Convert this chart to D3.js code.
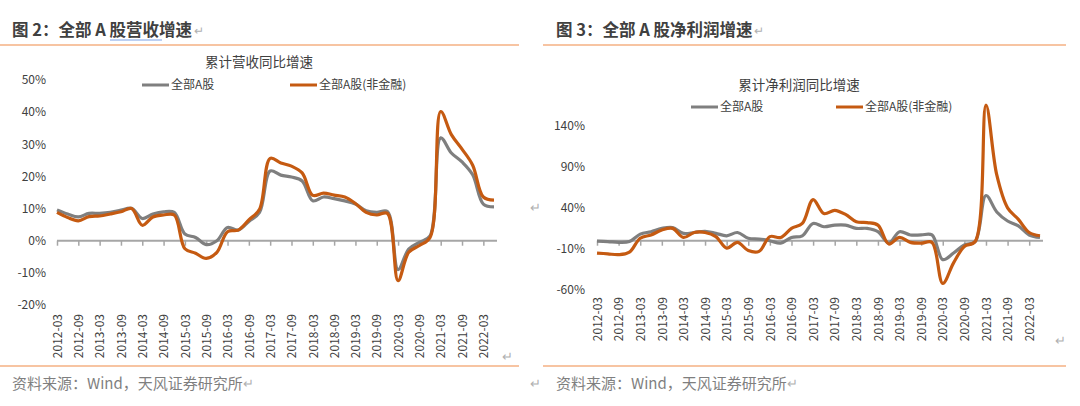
<!DOCTYPE html>
<html>
<head>
<meta charset="utf-8">
<script src="https://cdn.jsdelivr.net/npm/d3@7"></script>
<style>
  html, body { margin: 0; padding: 0; background: #fff; }
  svg { display: block; font-family: "Noto Sans CJK SC", "Noto Sans", sans-serif; }
</style>
</head>
<body>
<div class="chartWrapper"></div>
<script>
const pageWidth = 1080, pageHeight = 406;

// quarterly categories
const quarters = [
  "2012-03", "2012-06", "2012-09", "2012-12",
  "2013-03", "2013-06", "2013-09", "2013-12",
  "2014-03", "2014-06", "2014-09", "2014-12",
  "2015-03", "2015-06", "2015-09", "2015-12",
  "2016-03", "2016-06", "2016-09", "2016-12",
  "2017-03", "2017-06", "2017-09", "2017-12",
  "2018-03", "2018-06", "2018-09", "2018-12",
  "2019-03", "2019-06", "2019-09", "2019-12",
  "2020-03", "2020-06", "2020-09", "2020-12",
  "2021-03", "2021-06", "2021-09", "2021-12",
  "2022-03", "2022-06"
];
// only every other quarter gets a tick label
const tickQuarters = quarters.filter(q => q.endsWith("-03") || q.endsWith("-09"));

const seriesNames = ["全部A股", "全部A股(非金融)"];

// 累计营收同比增速 (%)
const revenueAll = [
  9.6, 8.3, 7.4, 8.5, 8.5, 8.8, 9.5, 10.1, 6.9, 8.3, 9.0, 8.8,
  2.1, 1.0, -1.2, 0.0, 4.1, 3.3, 6.0, 8.8, 21.7, 20.4, 19.8, 18.6,
  12.4, 13.6, 13.1, 12.4, 11.4, 9.3, 8.8, 9.1, -9.0, -2.6, -0.5, 1.5,
  32.0, 27.3, 24.5, 20.5, 11.4, 10.5
];
const revenueNonFin = [
  8.8, 7.2, 6.2, 7.5, 7.7, 8.3, 9.0, 10.0, 4.8, 7.4, 8.0, 8.0,
  -2.5, -3.9, -5.5, -3.6, 2.8, 3.3, 6.5, 9.8, 25.6, 24.2, 23.2, 21.1,
  14.1, 14.8, 14.2, 13.6, 11.6, 8.8, 8.0, 8.5, -12.4, -3.6, -1.5, 1.0,
  40.2, 33.0, 28.5, 23.5, 13.6, 12.6
];
const revenueTicks = [-20, -10, 0, 10, 20, 30, 40, 50];

// 累计净利润同比增速 (%)
const profitAll = [
  -0.5, -1, -2, -1, 8, 11, 15, 16, 9, 10, 11.5, 9,
  6, 10, 3, 2, 0, -3, 4, 6, 21, 17, 19, 19,
  15, 15, 11, -3, 11, 7, 7, 7, -23, -15, -5, -1,
  55, 35, 24, 18, 7, 4
];
const profitNonFin = [
  -15, -16, -17, -14, 3, 7, 13, 15, 4, 10, 10, 5,
  -9, -2, -12, -13, 5, 4, 15, 21, 50, 33, 37, 32,
  23, 22, 19, -4, 4, -2, -3, -2, -52, -27, -7, -1,
  165, 80, 40, 26, 10, 6
];
const profitTicks = [-60, -10, 40, 90, 140];

const GRAY = "#7f7f7f", ORANGE = "#c55a11";
const TEXT = "#404040", RULE = "#f4b183", RETURN = "#b0b0b0";

const svg = d3.select(".chartWrapper").append("svg")
  .attr("width", pageWidth)
  .attr("height", pageHeight);

svg.append("rect").attr("width", pageWidth).attr("height", pageHeight).attr("fill", "#fff");

function addReturnMark(x, y, size) {
  svg.append("text")
    .attr("x", x).attr("y", y)
    .attr("fill", RETURN)
    .attr("font-size", size || 13)
    .text("↵");
}

function drawPanel(opts) {
  // heading + orange rules
  const head = svg.append("text")
    .attr("x", opts.headX).attr("y", 36)
    .attr("fill", TEXT)
    .attr("font-size", 16.5)
    .attr("font-weight", "bold")
    .text(opts.heading);
  const headBox = head.node().getBBox();
  addReturnMark(headBox.x + headBox.width + 1, 35, 12);

  svg.append("line")
    .attr("x1", opts.ruleX[0]).attr("x2", opts.ruleX[1])
    .attr("y1", 45).attr("y2", 45)
    .attr("stroke", RULE).attr("stroke-width", 1.5);
  svg.append("line")
    .attr("x1", opts.ruleX[0]).attr("x2", opts.ruleX[1])
    .attr("y1", 366).attr("y2", 366)
    .attr("stroke", RULE).attr("stroke-width", 1.5);

  const foot = svg.append("text")
    .attr("x", opts.headX).attr("y", 389)
    .attr("fill", "#7f7f7f")
    .attr("font-size", 15)
    .text("资料来源：Wind，天风证券研究所");
  const footBox = foot.node().getBBox();
  addReturnMark(footBox.x + footBox.width, 388, 13);

  // chart title and legend
  svg.append("text")
    .attr("x", opts.titleX).attr("y", opts.titleY)
    .attr("text-anchor", "middle")
    .attr("fill", TEXT)
    .attr("font-size", 13.5)
    .text(opts.title);

  const legendColors = [GRAY, ORANGE];
  opts.legendX.forEach((lx, i) => {
    svg.append("line")
      .attr("x1", lx).attr("x2", lx + 27)
      .attr("y1", opts.legendY).attr("y2", opts.legendY)
      .attr("stroke", legendColors[i]).attr("stroke-width", 3);
    svg.append("text")
      .attr("x", lx + 29).attr("y", opts.legendY)
      .attr("dy", "0.35em")
      .attr("fill", TEXT)
      .attr("font-size", 12)
      .text(seriesNames[i]);
  });

  const x = d3.scalePoint().domain(quarters).range(opts.xRange);
  const y = d3.scaleLinear().domain(opts.yDomain).range(opts.yRange);

  // y labels
  const yAxis = svg.append("g")
    .attr("transform", `translate(${opts.yLabelX},0)`)
    .call(d3.axisLeft(y).tickValues(opts.yTicks).tickSize(0).tickPadding(0)
      .tickFormat(d => d + "%"));
  yAxis.select(".domain").remove();
  yAxis.selectAll("text")
    .attr("fill", TEXT)
    .attr("font-size", 12)
    .attr("font-family", "'Noto Sans CJK SC', sans-serif");

  // zero line with tick marks
  const zeroAxis = svg.append("g")
    .attr("transform", `translate(0,${y(0)})`)
    .call(d3.axisBottom(x).tickValues(tickQuarters).tickSize(5).tickSizeOuter(0).tickFormat(""));
  zeroAxis.select(".domain")
    .attr("stroke", "#a6a6a6").attr("stroke-width", 2)
    .attr("d", `M${opts.xRange[0]},0H${opts.xRange[1] + 3}`);
  zeroAxis.selectAll(".tick line").attr("stroke", "#a6a6a6").attr("stroke-width", 1.5);

  // rotated category labels at the bottom
  const labelAxis = svg.append("g")
    .attr("transform", `translate(0,${opts.xLabelY})`)
    .call(d3.axisBottom(x).tickValues(tickQuarters).tickSize(0).tickPadding(0));
  labelAxis.select(".domain").remove();
  labelAxis.selectAll("text")
    .attr("transform", "rotate(-90)")
    .attr("x", 0).attr("y", 0)
    .attr("dy", "0.35em")
    .attr("text-anchor", "end")
    .attr("fill", TEXT)
    .attr("font-size", 12)
    .attr("font-family", "'Noto Sans CJK SC', sans-serif");

  const line = d3.line()
    .x((d, i) => x(quarters[i]))
    .y(d => y(d))
    .curve(d3.curveCatmullRom.alpha(0.5));

  [[opts.seriesA, GRAY], [opts.seriesB, ORANGE]].forEach(([values, color]) => {
    svg.append("path")
      .datum(values)
      .attr("fill", "none")
      .attr("stroke", color)
      .attr("stroke-width", 3.2)
      .attr("stroke-linejoin", "round")
      .attr("d", line);
  });
}

drawPanel({
  heading: "图 2：全部 A 股营收增速",
  headX: 12,
  ruleX: [0, 519],
  title: "累计营收同比增速",
  titleX: 259, titleY: 67,
  legendX: [142, 290], legendY: 85,
  xRange: [57, 494],
  yDomain: [-20, 50], yRange: [305, 80],
  yTicks: revenueTicks, yLabelX: 46,
  xLabelY: 314,
  seriesA: revenueAll, seriesB: revenueNonFin
});

drawPanel({
  heading: "图 3：全部 A 股净利润增速",
  headX: 556,
  ruleX: [543, 1066],
  title: "累计净利润同比增速",
  titleX: 799, titleY: 90,
  legendX: [691, 836], legendY: 107,
  xRange: [597, 1040],
  yDomain: [-60, 140], yRange: [290, 125.7],
  yTicks: profitTicks, yLabelX: 585,
  xLabelY: 297,
  seriesA: profitAll, seriesB: profitNonFin
});

// blue spell-check underline under 股营收
svg.append("line")
  .attr("x1", 110).attr("x2", 162)
  .attr("y1", 40).attr("y2", 40)
  .attr("stroke", "#7aa2e8").attr("stroke-width", 1.2);

// stray paragraph marks
addReturnMark(530, 212, 13);
addReturnMark(502, 361, 13);
addReturnMark(530, 388, 13);
addReturnMark(1055, 345, 13);
</script>
</body>
</html>
